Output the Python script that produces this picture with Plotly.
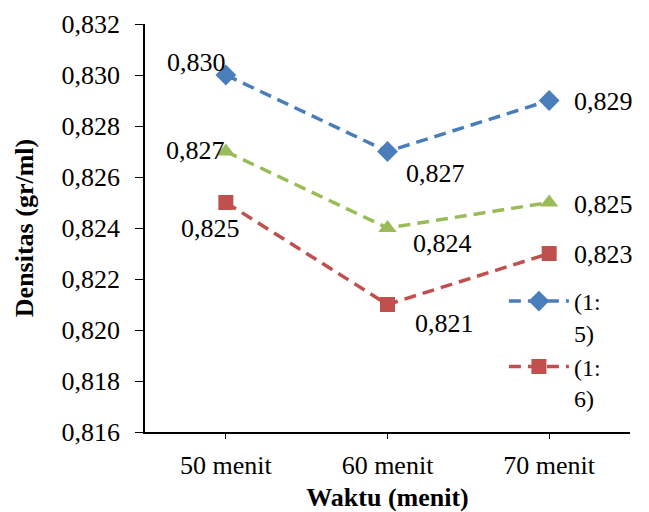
import plotly.graph_objects as go

categories = ["50 menit", "60 menit", "70 menit"]
s15 = [0.830, 0.827, 0.829]
s_green = [0.827, 0.824, 0.825]
s16 = [0.825, 0.821, 0.823]
names = ["(1:<br>5)", "(1:<br>6)"]
y_ticks = [0.816, 0.818, 0.820, 0.822, 0.824, 0.826, 0.828, 0.830, 0.832]

FONT = "Liberation Serif"
fs = 26

fig = go.Figure()
fig.add_trace(go.Scatter(x=categories, y=s15, name=names[0], mode="lines+markers",
                         line=dict(color="#4A7EBB", width=3.5, dash="12px,7px"),
                         marker=dict(symbol="diamond", size=16, color="#4A7EBB")))
fig.add_trace(go.Scatter(x=categories, y=s_green, name="green", mode="lines+markers", showlegend=False,
                         line=dict(color="#9BBB59", width=3.5, dash="12px,7px"),
                         marker=dict(symbol="triangle-up", size=16, color="#9BBB59")))
fig.add_trace(go.Scatter(x=categories, y=s16, name=names[1], mode="lines+markers",
                         line=dict(color="#C0504D", width=3.5, dash="12px,7px"),
                         marker=dict(symbol="square", size=15, color="#C0504D")))

offsets = {
    0: [(-29, 13), (48, -22), (54, -1)],
    1: [(-30, 1), (55, -15), (54, -2)],
    2: [(-15, -26), (57, -19), (54, -1)],
}
for si, series in enumerate([s15, s_green, s16]):
    for i, (c, v) in enumerate(zip(categories, series)):
        dx, dy = offsets[si][i]
        fig.add_annotation(x=c, y=v, text=f"{v:.3f}".replace(".", ","), showarrow=False,
                           xshift=dx, yshift=dy, font=dict(family=FONT, size=fs, color="black"))

fig.update_layout(
    width=649, height=512,
    margin=dict(l=145, r=19, t=24, b=80),
    plot_bgcolor="white", paper_bgcolor="white",
    separators=",.",
    font=dict(family=FONT, size=fs, color="black"),
    legend=dict(x=0.74, y=0.375, xanchor="left", yanchor="top", valign="top",
                font=dict(family=FONT, size=24), bgcolor="rgba(0,0,0,0)",
                tracegroupgap=0, itemwidth=60),
    xaxis=dict(range=[-0.5, 2.5], showline=True, linecolor="black", linewidth=1.5,
               ticks="outside", ticklen=5, tickcolor="black", showgrid=False,
               ticklabelstandoff=4, automargin=False,
               title=dict(text="<b>Waktu (menit)</b>", standoff=16,
                          font=dict(family=FONT, size=fs)),
               tickfont=dict(family=FONT, size=fs)),
    yaxis=dict(range=[0.816, 0.832], tickvals=y_ticks, tickformat=".3f",
               showline=True, linecolor="black", linewidth=1.5,
               ticks="outside", ticklen=8, tickcolor="black", showgrid=False, zeroline=False,
               ticklabelstandoff=10, automargin=False,
               title=dict(text="<b>Densitas (gr/ml)</b>", standoff=20,
                          font=dict(family=FONT, size=fs)),
               tickfont=dict(family=FONT, size=fs)),
)

fig.write_html("out.html")
